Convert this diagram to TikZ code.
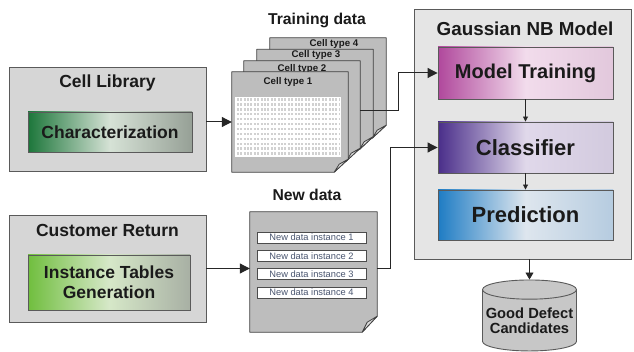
\documentclass[tikz,border=0pt]{standalone}
\usepackage{fontspec}
\setmainfont{Liberation Sans}
\usetikzlibrary{shapes.geometric, arrows.meta, calc}
\definecolor{txt}{HTML}{1A1A1A}
\definecolor{edge}{HTML}{5A5A5A}
\definecolor{instxt}{HTML}{4A5670}
\tikzstyle{group} = [rectangle, draw=edge, line width=0.9pt, fill=black!16, inner sep=0pt]
\tikzstyle{title} = [font=\fontsize{17.5}{20}\selectfont\bfseries, text=txt, inner sep=0pt]
\tikzstyle{stage} = [rectangle, draw=edge, line width=0.9pt, text=txt, align=center, inner sep=0pt, font=\fontsize{17.5}{20}\selectfont\bfseries]
\tikzstyle{sheetbox} = [rectangle, inner sep=0pt]
\tikzstyle{paper} = [draw=black!75, fill=black!26, line width=0.8pt, line join=round]
\tikzstyle{typelabel} = [font=\fontsize{9.7}{10}\selectfont\bfseries, text=txt, inner sep=0pt]
\tikzstyle{instance} = [rectangle, draw=black!70, fill=white, line width=0.7pt, minimum width=109pt, minimum height=11pt, inner sep=0pt, text=instxt, font=\fontsize{9.3}{10}\selectfont]
\tikzstyle{db} = [shape=cylinder, shape border rotate=90, aspect=0.22, draw=edge, line width=0.9pt, fill=black!22, minimum width=94pt, minimum height=71pt, align=center, inner sep=0pt, text=txt, font=\fontsize{14.7}{15}\selectfont\bfseries]
\tikzstyle{line} = [draw=black!85, line width=1pt, -{Triangle[length=10pt,width=10pt]}]
\tikzstyle{sline} = [draw=black!85, line width=0.8pt, -{Triangle[length=5pt,width=5pt]}]
\tikzstyle{mline} = [draw=black!85, line width=0.8pt, -{Triangle[length=7pt,width=8pt]}]

\begin{document}
\begin{tikzpicture}[x=1pt,y=-1pt]
    \useasboundingbox (0,0) rectangle (634,352);
    % Place nodes
    \node [group, minimum width=197pt, minimum height=104pt] (lib) at (107.5,119) {};
    \node [title] (libtitle) at (107.5,83) {Cell Library};
    \node [stage, minimum width=164pt, minimum height=40pt, left color={rgb,255:red,28;green,118;blue,58}, right color={rgb,255:red,150;green,160;blue,150}, middle color={rgb,255:red,214;green,226;blue,214}] (char) at (110,132) {Characterization};
    \node [group, minimum width=197pt, minimum height=107pt] (cust) at (107.5,268.5) {};
    \node [title] (custtitle) at (107.5,230) {Customer Return};
    \node [stage, minimum width=162pt, minimum height=55pt, left color={rgb,255:red,112;green,190;blue,62}, right color={rgb,255:red,168;green,176;blue,164}, middle color={rgb,255:red,214;green,232;blue,200}] (inst) at (109,282.5) {Instance Tables\\Generation};

    \node [title, font=\fontsize{15.7}{18}\selectfont\bfseries] (traintitle) at (317,20) {Training data};
    \foreach \i/\cx/\cy/\lx/\ly in {4/328/88/334/43.5, 3/315/99.5/316/54.5, 2/302/111/302/69, 1/290/122/288/82} {
        \node [sheetbox, minimum width=116pt, minimum height=100pt] (s\i) at (\cx,\cy) {};
        \draw [paper] (s\i.north west) -- (s\i.north east) -- ($(s\i.south east)+(0,-13)$) -- ($(s\i.south east)+(-14,0)$) -- (s\i.south west) -- cycle;
        \draw [paper, fill=black!14] ($(s\i.south east)+(0,-13)$) -- ($(s\i.south east)+(-9,-8)$) -- ($(s\i.south east)+(-14,0)$) -- cycle;
        \node [typelabel] (t\i) at (\lx,\ly) {Cell type \i};
    }
    \node [rectangle, fill=white, minimum width=106pt, minimum height=60pt, inner sep=0pt] (table) at (288,127) {};
    \foreach \r in {0,...,11}
        \draw [black!18, line width=2.3pt, dash pattern=on 2pt off 1.4pt] ($(table.north west)+(2,2.8+\r*4.9)$) -- ($(table.north east)+(-2,2.8+\r*4.9)$);

    \node [title, font=\fontsize{15.7}{18}\selectfont\bfseries] (newtitle) at (307,195) {New data};
    \node [sheetbox, minimum width=127pt, minimum height=120pt] (nd) at (313.5,272) {};
    \draw [paper] (nd.north west) -- (nd.north east) -- ($(nd.south east)+(0,-16)$) -- ($(nd.south east)+(-15,0)$) -- (nd.south west) -- cycle;
    \draw [paper, fill=black!14] ($(nd.south east)+(0,-16)$) -- ($(nd.south east)+(-10,-10)$) -- ($(nd.south east)+(-15,0)$) -- cycle;
    \foreach \k/\yy in {1/237.5, 2/256, 3/274.3, 4/292.5}
        \node [instance] (nd\k) at (311.5,\yy) {New data instance \k};

    \node [group, fill=black!10, minimum width=217pt, minimum height=250pt] (gnb) at (522.5,134) {};
    \node [title, font=\fontsize{18.8}{20}\selectfont\bfseries] (gnbtitle) at (525,29) {Gaussian NB Model};
    \node [stage, minimum width=175pt, minimum height=52pt, font=\fontsize{20}{22}\selectfont\bfseries, left color={rgb,255:red,176;green,72;blue,156}, right color={rgb,255:red,226;green,200;blue,220}, middle color={rgb,255:red,242;green,220;blue,236}] (mt) at (525.5,73) {Model Training};
    \node [stage, minimum width=175pt, minimum height=51pt, font=\fontsize{22}{24}\selectfont\bfseries, left color={rgb,255:red,74;green,46;blue,138}, right color={rgb,255:red,210;green,202;blue,222}, middle color={rgb,255:red,224;green,216;blue,234}] (cl) at (525.5,147.5) {Classifier};
    \node [stage, minimum width=175pt, minimum height=50pt, font=\fontsize{22}{24}\selectfont\bfseries, left color={rgb,255:red,30;green,124;blue,196}, right color={rgb,255:red,182;green,204;blue,224}, middle color={rgb,255:red,222;green,230;blue,238}] (pr) at (525.5,215) {Prediction};
    \node [db] (db) at (529.5,320.5) {Good Defect\\Candidates};

    % Draw edges
    \path [line] (lib.east |- s1.west) -- (s1.west);
    \path [line] (cust.east) -- (cust.east -| nd.west);
    \path [line] (s2.east) -- ++(38,0) |- (mt.west);
    \path [line] ($(nd.east)+(0,-3)$) -- ++(13,0) |- (cl.west);
    \path [sline] (mt.south) -- (cl.north);
    \path [sline] (cl.south) -- (pr.north);
    \path [mline] (db.north |- gnb.south) -- (db.north);
\end{tikzpicture}
\end{document}
